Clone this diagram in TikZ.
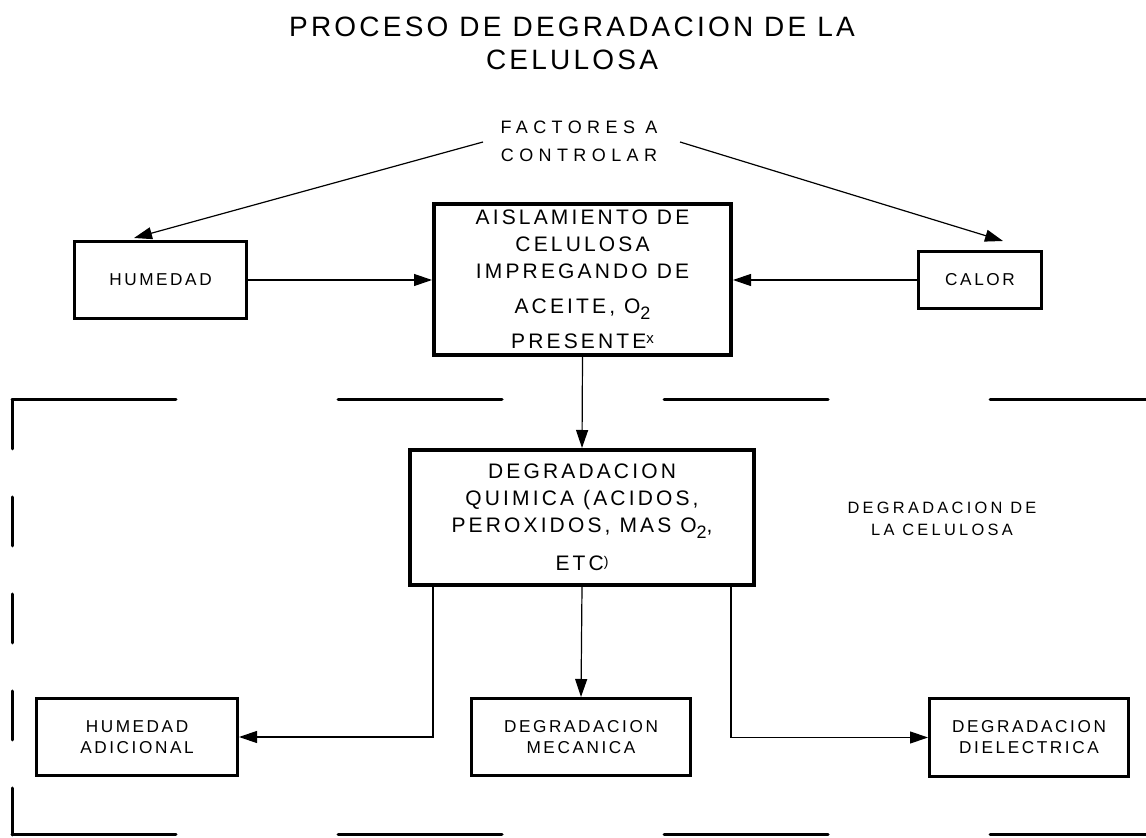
\documentclass[tikz,border=0pt]{standalone}
\usepackage{fontspec}
\usepackage{tikz}
\usetikzlibrary{arrows.meta,positioning,calc}
\newfontfamily\titlefont[LetterSpace=11.5]{Liberation Sans}
\newfontfamily\boxfont[LetterSpace=15]{Liberation Sans}
\newfontfamily\labfont[LetterSpace=20]{Liberation Sans}
\newfontfamily\widefont[LetterSpace=30]{Liberation Sans}
\newcommand{\subdos}{\raisebox{-3pt}{\fontsize{9}{9}\selectfont 2}}
\newcommand{\supx}{\raisebox{2.5pt}{\fontsize{7.5}{7.5}\selectfont x}}
\newcommand{\suppar}{\raisebox{2.3pt}{\fontsize{7}{7}\selectfont )}}
\tikzset{
  box/.style={draw=black,line width=1.7pt,inner sep=0pt,align=center,
              font={\boxfont\fontsize{8.6}{10.5}\selectfont}},
  bigbox/.style={box,line width=2pt,
                 font={\boxfont\fontsize{10.5}{13.5}\selectfont}},
  arrowthin/.style={-{Triangle[length=9pt,width=6pt]},line width=0.6pt,black},
  frameline/.style={line width=1.5pt,line cap=round,black},
}
\begin{document}
\begin{tikzpicture}[x=0.5pt,y=-0.5pt]
  \useasboundingbox (0,0) rectangle (1146,838);

  % ---- Title ----
  \node[align=center,font={\titlefont\fontsize{14}{16.5}\selectfont}]
    (titulo) at (572,43.5) {PROCESO DE DEGRADACION DE LA\\CELULOSA};

  % ---- Factors to control ----
  \node[align=center,font={\widefont\fontsize{9}{14}\selectfont}]
    (fact) at (579,141.5) {FACTORES A\\CONTROLAR};
  \coordinate (fl) at (483,142);
  \coordinate (fr) at (680,142);

  % ---- Upper row ----
  \node[box,minimum width=85.8pt,minimum height=38.3pt]
    (hum) at (160.5,280) {HUMEDAD};
  \node[bigbox,minimum width=148.5pt,minimum height=75.5pt]
    (ais) at (582.5,279.5)
    {AISLAMIENTO DE\\CELULOSA\\IMPREGANDO DE\\[4pt]
     ACEITE, O\subdos\\[4pt]PRESENTE\supx};
  \node[box,minimum width=61.3pt,minimum height=28.3pt]
    (cal) at (980,280) {CALOR};

  % ---- Dashed frame ----
  \draw[frameline,dash pattern=on 82pt off 81pt] (12,400) -- (1146,400);
  \draw[frameline,dash pattern=on 24.5pt off 24pt] (12,400) -- (12,835);
  \draw[frameline,dash pattern=on 82pt off 81pt] (12,835) -- (1146,835);

  % ---- Chemical degradation ----
  \node[bigbox,minimum width=172pt,minimum height=67.5pt]
    (quim) at (582,517.5)
    {DEGRADACION\\QUIMICA (ACIDOS,\\PEROXIDOS, MAS O\subdos,\\[5.5pt]
     ETC\suppar};
  \node[align=center,font={\labfont\fontsize{8.2}{11}\selectfont}]
    (etiq) at (942,518.5) {DEGRADACION DE\\LA CELULOSA};

  % ---- Lower row ----
  \node[box,minimum width=100.3pt,minimum height=38.3pt]
    (hadic) at (137,737) {HUMEDAD\\ADICIONAL};
  \node[box,minimum width=109.3pt,minimum height=38.3pt]
    (mec) at (581,737) {DEGRADACION\\MECANICA};
  \node[box,minimum width=99.3pt,minimum height=38.8pt]
    (diel) at (1029,737.5) {DEGRADACION\\DIELECTRICA};

  % ---- Arrows ----
  \draw[arrowthin] (fl) -- ([shift={(30.5pt,1pt)}]hum.north west);
  \draw[arrowthin] (fr) -- ([shift={(43pt,4.5pt)}]cal.north west);
  \draw[arrowthin] (hum.east) -- (hum.east -| ais.west);
  \draw[arrowthin] (cal.west) -- (cal.west -| ais.east);
  \draw[arrowthin] (ais.south) -- (quim.north);
  \draw[arrowthin] ([xshift=12.5pt]quim.south west) |- (hadic.east);
  \draw[arrowthin] (quim.south) -- (mec.north);
  \draw[arrowthin] ([xshift=-12.5pt]quim.south east) |- (diel.west);
\end{tikzpicture}
\end{document}
